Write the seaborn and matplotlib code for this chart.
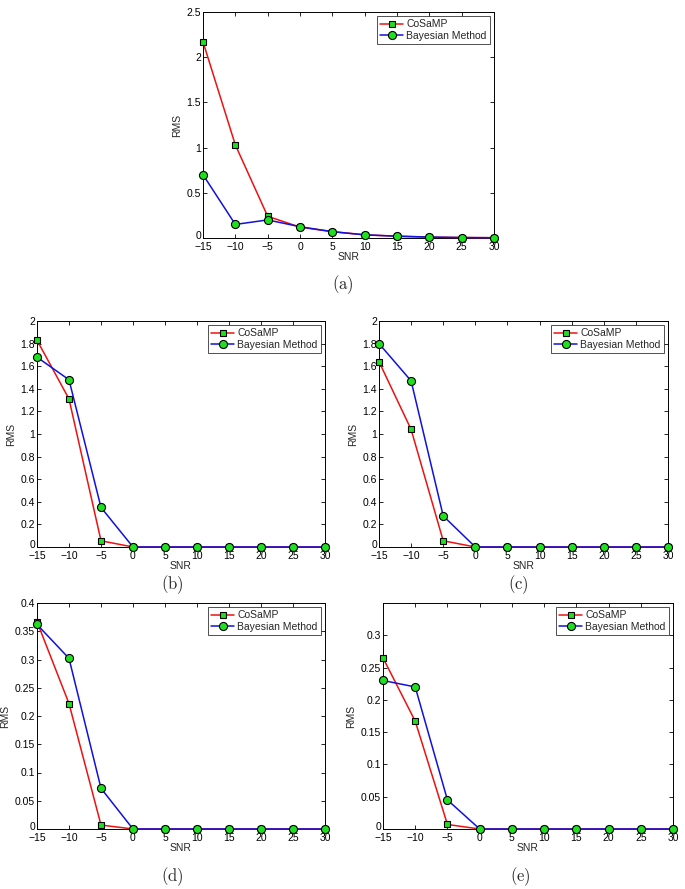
import matplotlib
matplotlib.use("Agg")
import matplotlib.pyplot as plt
import matplotlib.transforms as mtrans
import seaborn as sns
import numpy as np
from matplotlib.ticker import FuncFormatter

snr = [-15, -10, -5, 0, 5, 10, 15, 20, 25, 30]

cosamp_a = [2.17, 1.03, 0.24, 0.12, 0.07, 0.035, 0.02, 0.01, 0.005, 0.003]
bayes_a = [0.70, 0.15, 0.20, 0.125, 0.07, 0.035, 0.02, 0.01, 0.005, 0.003]

cosamp_b = [1.83, 1.31, 0.055, 0, 0, 0, 0, 0, 0, 0]
bayes_b = [1.68, 1.48, 0.35, 0, 0, 0, 0, 0, 0, 0]

cosamp_c = [1.64, 1.04, 0.055, 0, 0, 0, 0, 0, 0, 0]
bayes_c = [1.80, 1.47, 0.275, 0, 0, 0, 0, 0, 0, 0]

cosamp_d = [0.367, 0.222, 0.007, 0, 0, 0, 0, 0, 0, 0]
bayes_d = [0.362, 0.302, 0.072, 0, 0, 0, 0, 0, 0, 0]

cosamp_e = [0.265, 0.167, 0.007, 0, 0, 0, 0, 0, 0, 0]
bayes_e = [0.230, 0.220, 0.045, 0, 0, 0, 0, 0, 0, 0]

xticks = [-15, -10, -5, 0, 5, 10, 15, 20, 25, 30]
yticks_a = [0, 0.5, 1, 1.5, 2, 2.5]
yticks_bc = [0, 0.2, 0.4, 0.6, 0.8, 1, 1.2, 1.4, 1.6, 1.8, 2]
yticks_d = [0, 0.05, 0.1, 0.15, 0.2, 0.25, 0.3, 0.35, 0.4]
yticks_e = [0, 0.05, 0.1, 0.15, 0.2, 0.25, 0.3]

sns.set_theme(style="white")
plt.rcParams['font.family'] = ['Liberation Sans', 'DejaVu Sans']
plt.rcParams['mathtext.fontset'] = 'cm'
plt.rcParams['axes.unicode_minus'] = True

fig = plt.figure(figsize=(6.85, 8.89), dpi=100)
W, H = 685.0, 889.0

def rect(l, r, t, b):
    return [l / W, 1 - b / H, (r - l) / W, (b - t) / H]

panels = [
    (rect(203, 494, 12, 238), cosamp_a, bayes_a, yticks_a, (0, 2.5), "(a)", (343, 285)),
    (rect(37, 325, 321, 547), cosamp_b, bayes_b, yticks_bc, (0, 2), "(b)", (172, 585)),
    (rect(379, 668, 321, 547), cosamp_c, bayes_c, yticks_bc, (0, 2), "(c)", (518, 585)),
    (rect(37, 325, 603, 829), cosamp_d, bayes_d, yticks_d, (0, 0.4), "(d)", (172, 877)),
    (rect(383, 673, 603, 829), cosamp_e, bayes_e, yticks_e, (0, 0.35), "(e)", (520, 877)),
]

green = '#1ee01e'
fmt = FuncFormatter(lambda v, p: ('%g' % v).replace('-', '\u2212'))

for r, cos, bay, yt, ylim, cap, cpos in panels:
    ax = fig.add_axes(r)
    sns.lineplot(x=snr, y=cos, ax=ax, color='#ee1111', linewidth=1.1,
                 marker='s', markersize=4.5, markerfacecolor=green,
                 markeredgecolor='black', markeredgewidth=0.8, label='CoSaMP',
                 clip_on=False, zorder=3)
    sns.lineplot(x=snr, y=bay, ax=ax, color='#1111dd', linewidth=1.1,
                 marker='o', markersize=5.8, markerfacecolor=green,
                 markeredgecolor='black', markeredgewidth=0.8, label='Bayesian Method',
                 clip_on=False, zorder=4)
    ax.set_xlim(-15, 30)
    ax.set_ylim(*ylim)
    ax.set_xticks(xticks)
    ax.set_yticks(yt)
    ax.xaxis.set_major_formatter(fmt)
    ax.yaxis.set_major_formatter(fmt)
    ax.tick_params(direction='in', length=3, width=0.6, labelsize=7.5,
                   top=True, right=True, bottom=True, left=True,
                   colors='black')
    ax.tick_params(axis='x', pad=3)
    ax.tick_params(axis='y', pad=1.5)
    for s in ax.spines.values():
        s.set_color('black')
        s.set_linewidth(0.7)
        s.set_visible(True)
    ax.set_xlabel('SNR', fontsize=7.5, labelpad=0)
    ax.set_ylabel('RMS', fontsize=7.5, labelpad=3)
    # nudge the "0" y tick label up slightly so it sits clear of the x labels
    off = mtrans.ScaledTranslation(0, 2.5 / 72, fig.dpi_scale_trans)
    ylab0 = ax.get_yticklabels()[0]
    ylab0.set_transform(ylab0.get_transform() + off)
    leg = ax.legend(loc='upper right', fontsize=7.5, frameon=True, fancybox=False,
                    handlelength=2.2, handletextpad=0.3, borderpad=0.3,
                    labelspacing=0.15, borderaxespad=0.4)
    leg.get_frame().set_edgecolor('black')
    leg.get_frame().set_linewidth(0.6)
    leg.set_zorder(10)
    fig.text(cpos[0] / W, 1 - cpos[1] / H, r'$\mathrm{' + cap + '}$',
             ha='center', va='center', fontsize=12)

fig.savefig('out.png', dpi=100)
